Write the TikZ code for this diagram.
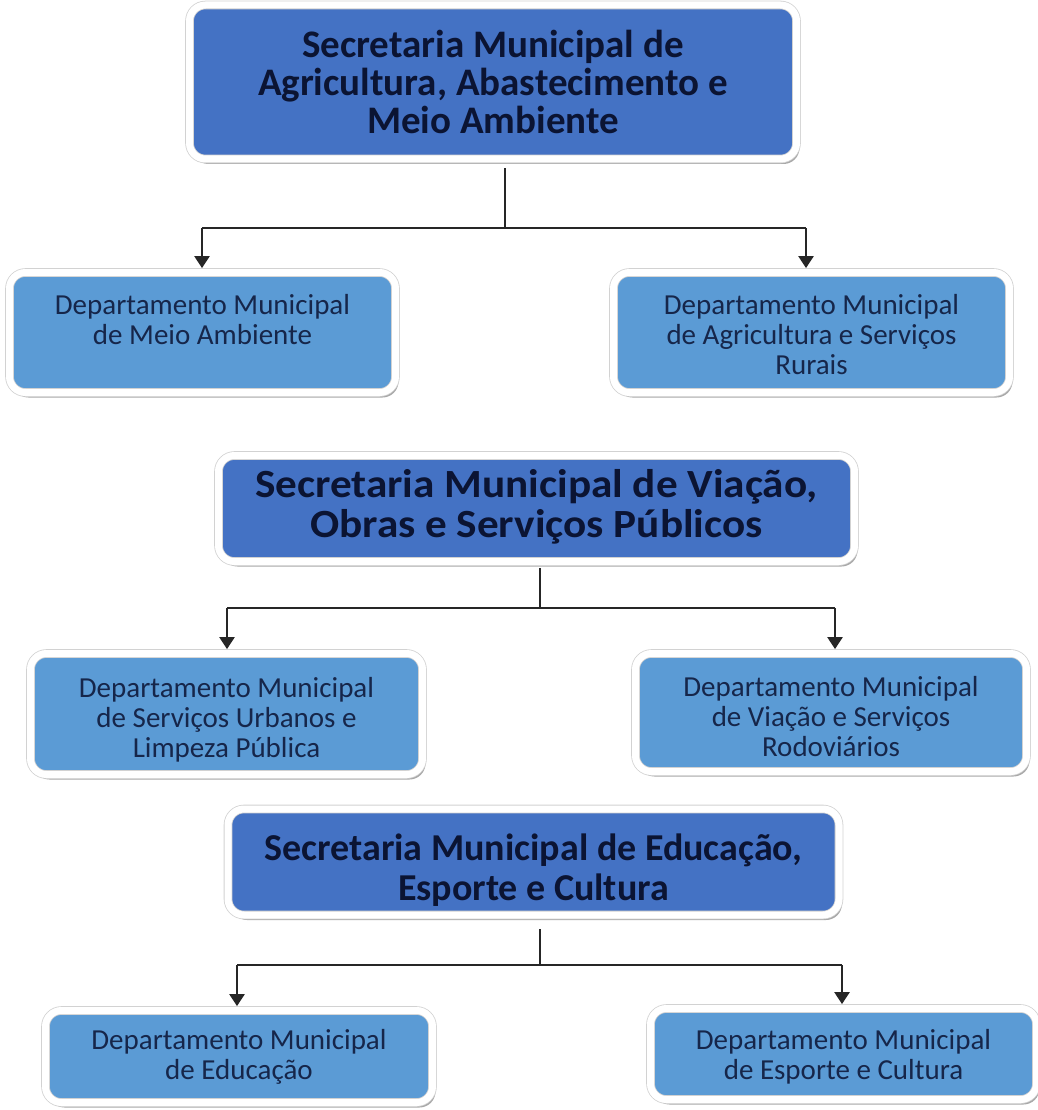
\documentclass[tikz,border=0pt]{standalone}
\usepackage{fontspec}
\setmainfont{Carlito}
\newfontfamily\widefont[FakeStretch=1.08]{Carlito}
\usetikzlibrary{arrows.meta,shadows}
\definecolor{secblue}{HTML}{4472C4}
\definecolor{depblue}{HTML}{5B9BD5}
\definecolor{txt}{HTML}{0B1433}
\definecolor{txtd}{HTML}{16264A}
% lower the text block inside a node by #1 without changing the node size
\newcommand{\txdown}[2]{\raisebox{-#1}[\height][\depth]{\begin{tabular}{@{}c@{}}#2\end{tabular}}}
\begin{document}
\begin{tikzpicture}[x=1pt,y=-1pt,
 box/.style={rounded corners=16pt, draw=gray!35, double=white, double distance=7pt, line width=0.8pt,
   drop shadow={shadow xshift=3pt, shadow yshift=-5pt, fill=gray!80, opacity=0.85},
   inner sep=0pt, align=center},
 sec/.style={box, fill=secblue, text=txt, font=\fontsize{39}{36}\selectfont\bfseries},
 dep/.style={box, fill=depblue, text=txtd, font=\fontsize{29}{30}\selectfont},
 conn/.style={line width=2.4pt, black!85},
 arr/.style={conn, -{Triangle[width=15pt,length=12pt]}, shorten >=4pt}
]
\useasboundingbox (0,0) rectangle (1037,1110);

% group 1
\node[sec, minimum width=607pt, minimum height=154pt] (s1) at (493,82)
  {\txdown{5pt}{Secretaria Municipal de\\Agricultura, Abastecimento e\\Meio Ambiente}};
\node[dep, minimum width=386pt, minimum height=120pt] (d1) at (202.5,332.5)
  {\txdown{6pt}{Departamento Municipal\\de Meio Ambiente\\\strut}};
\node[dep, minimum width=396pt, minimum height=120pt] (d2) at (811.5,332.5)
  {\txdown{6pt}{Departamento Municipal\\de Agricultura e Serviços\\Rurais}};

% group 2
\node[sec, minimum width=636pt, minimum height=106pt, font=\widefont\fontsize{40}{40}\selectfont\bfseries] (s2) at (536.5,508.5)
  {\txdown{1pt}{Secretaria Municipal de Viação,\\Obras e Serviços Públicos}};
\node[dep, minimum width=392pt, minimum height=121pt] (d3) at (226.5,714)
  {\txdown{7pt}{Departamento Municipal\\de Serviços Urbanos e\\Limpeza Pública}};
\node[dep, minimum width=391pt, minimum height=118pt] (d4) at (831,712.5)
  {\txdown{8pt}{Departamento Municipal\\de Viação e Serviços\\Rodoviários}};

% group 3
\node[sec, minimum width=611pt, minimum height=106pt, font=\fontsize{38}{40}\selectfont\bfseries] (s3) at (533.5,862)
  {\txdown{10pt}{Secretaria Municipal de Educação,\\Esporte e Cultura}};
\node[dep, minimum width=387pt, minimum height=92pt] (d5) at (239,1056.5)
  {\txdown{2pt}{Departamento Municipal\\de Educação}};
\node[dep, minimum width=386pt, minimum height=91pt] (d6) at (843.5,1054)
  {\txdown{4pt}{Departamento Municipal\\de Esporte e Cultura}};

% connectors group 1
\coordinate (j1) at (505,228);
\coordinate (l1) at (202,228);
\coordinate (r1) at (806,228);
\draw[conn] ([yshift=-9pt]s1.south -| j1) -- (j1);
\draw[conn] (l1) -- (r1);
\draw[arr] (l1) -- (l1 |- d1.north);
\draw[arr] (r1) -- (r1 |- d2.north);

% connectors group 2
\coordinate (j2) at (540,608);
\coordinate (l2) at (227,608);
\coordinate (r2) at (835,608);
\draw[conn] ([yshift=-6pt]s2.south -| j2) -- (j2);
\draw[conn] (l2) -- (r2);
\draw[arr] (l2) -- (l2 |- d3.north);
\draw[arr] (r2) -- (r2 |- d4.north);

% connectors group 3
\coordinate (j3) at (540,965);
\coordinate (l3) at (237,965);
\coordinate (r3) at (842,965);
\draw[conn] ([yshift=-14pt]s3.south -| j3) -- (j3);
\draw[conn] (l3) -- (r3);
\draw[arr] (l3) -- (l3 |- d5.north);
\draw[arr] (r3) -- (r3 |- d6.north);
\end{tikzpicture}
\end{document}
